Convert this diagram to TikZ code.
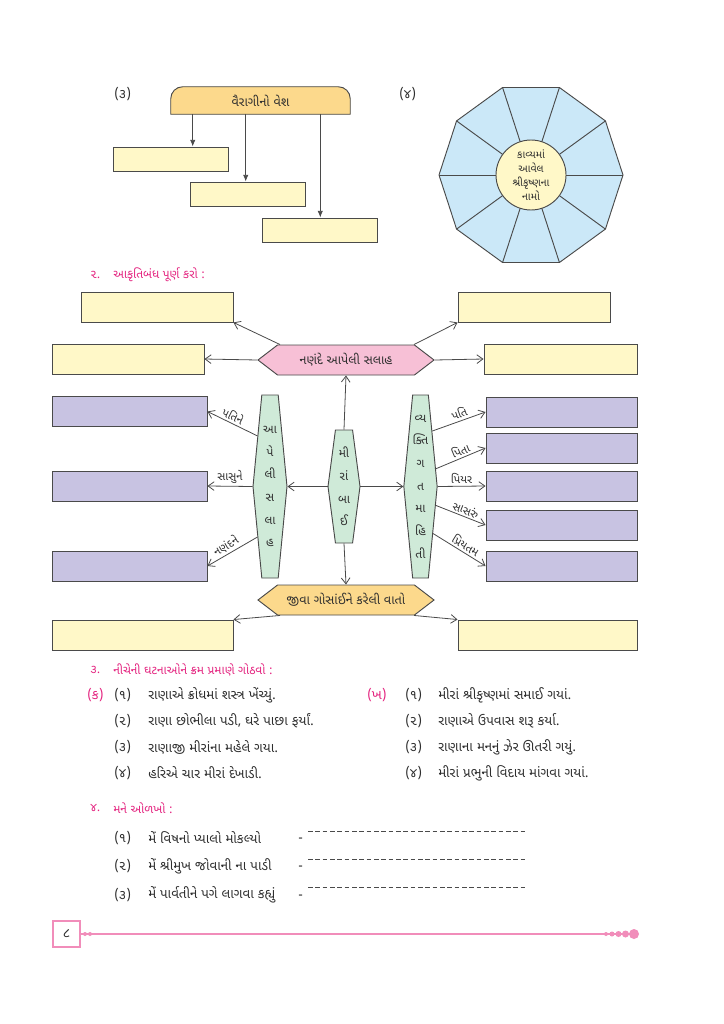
\documentclass[tikz,border=0pt]{standalone}
\usepackage{fontspec}
\setmainfont[Script=Gujarati]{Noto Sans Gujarati UI}
\usepackage{tikz}
\usetikzlibrary{arrows, arrows.meta, shapes.symbols, backgrounds, positioning}

\definecolor{linie}{HTML}{4A4A4A}
\definecolor{schrift}{HTML}{2E2E2E}
\definecolor{boxyel}{HTML}{FFF8C8}
\definecolor{boxlav}{HTML}{C8C3E2}
\definecolor{boxgrn}{HTML}{CFEAD8}
\definecolor{boxpnk}{HTML}{F7C0D6}
\definecolor{boxorg}{HTML}{FCD98C}
\definecolor{boxblu}{HTML}{CBE8F8}
\definecolor{headpk}{HTML}{E4237F}
\definecolor{footpk}{HTML}{F18DBA}

\tikzset{
  rubrik/.style={text=headpk, anchor=west, inner sep=0pt, font=\fontsize{9}{11}\selectfont},
  zeile/.style={text=schrift, anchor=west, inner sep=0pt, font=\fontsize{10}{12}\selectfont},
  gelb/.style={draw=linie, fill=boxyel, line width=0.7pt, inner sep=0pt, minimum height=30*0.75pt},
  lila/.style={draw=linie, fill=boxlav, line width=0.7pt, inner sep=0pt, minimum height=30*0.75pt},
  klein/.style={draw=linie, fill=boxyel, line width=0.7pt, inner sep=0pt, minimum width=115*0.75pt, minimum height=24*0.75pt},
  sechseck/.style={draw=linie, line width=0.7pt, shape=signal, signal to=east and west, signal pointer angle=75,
    minimum width=176*0.75pt, minimum height=30*0.75pt, inner sep=0pt, text=schrift, font=\fontsize{9.5}{11}\selectfont},
  saeule/.style={draw=linie, fill=boxgrn, line width=0.7pt, shape=signal, signal to=east and west, inner sep=0pt,
    align=center, text=schrift, font=\fontsize{9}{17}\selectfont},
  pfeil/.style={-{Straight Barb[length=4.5pt, width=6.5pt]}, draw=linie, line width=0.6pt},
  spitz/.style={-{Latex[length=5pt, width=4pt]}, draw=linie, line width=0.6pt},
  marke/.style={text=schrift, font=\fontsize{8.5}{10}\selectfont, inner sep=1.5pt},
}

\begin{document}
\begin{tikzpicture}[x=0.75pt, y=-0.75pt]
\useasboundingbox (0,0) rectangle (724,1024);
\begin{scope}[on background layer]
\fill[white] (0,0) rectangle (724,1024);
\end{scope}
% (3) vairagi no vesh
\node[zeile](nr3) at (114,94) {(૩)};
\node[text=schrift, minimum width=179*0.75pt, minimum height=27*0.75pt, inner sep=0pt, font=\fontsize{9.5}{11}\selectfont](kopf) at (260.5,100.5) {વૈરાગીનો વેશ};
\begin{scope}[on background layer]
\draw[draw=linie, fill=boxorg, line width=0.7pt] (kopf.south west) [rounded corners=9pt] -- (kopf.north west) -- (kopf.north east) [sharp corners] -- (kopf.south east) -- cycle;
\end{scope}
\node[klein](vesh1) at (170.5,159) {};
\node[klein](vesh2) at (247.5,194) {};
\node[klein](vesh3) at (319.5,230) {};
\draw[spitz] ([xshift=22*0.75pt]kopf.south west) -- ([xshift=22*0.75pt]kopf.south west |- vesh1.north);
\draw[spitz] ([xshift=75*0.75pt]kopf.south west) -- ([xshift=75*0.75pt]kopf.south west |- vesh2.north);
\draw[spitz] ([xshift=-30*0.75pt]kopf.south east) -- ([xshift=-30*0.75pt]kopf.south east |- vesh3.north);
%
% (4) krishna names
\node[zeile](nr4) at (399,94) {(૪)};
\begin{scope}[shift={(531,175)}]
\draw[draw=linie, fill=boxblu, line width=0.7pt] (0:92) -- (36:92) -- (72:92) -- (108:92) -- (144:92) -- (180:92) -- (216:92) -- (252:92) -- (288:92) -- (324:92) -- cycle;
\foreach \w in {0,36,...,324} \draw[linie, line width=0.7pt] (\w:92) -- (\w:35);
\node[circle, draw=linie, fill=boxyel, line width=0.7pt, minimum size=70*0.75pt, inner sep=0pt, align=center, text=schrift, font=\fontsize{8}{10.5}\selectfont](naam) at (0,0) {કાવ્યમાં\\આવેલ\\શ્રીકૃષ્ણના\\નામો};
\end{scope}
%
% 2. akrutibandh
\node[rubrik](nr2) at (90,275) {૨.};
\node[rubrik](titel2) at (113,275) {આકૃતિબંધ પૂર્ણ કરો :};
\node[sechseck, fill=boxpnk](salah) at (346,360) {નણંદે આપેલી સલાહ};
\node[sechseck, fill=boxorg](jiva) at (346,600) {જીવા ગોસાંઈને કરેલી વાતો};
\node[saeule, signal pointer angle=165, minimum width=32*0.75pt, minimum height=113*0.75pt](meera) at (344,486.5) {મી\\રાં\\બા\\ઈ};
\node[saeule, signal pointer angle=169, minimum width=34*0.75pt, minimum height=183*0.75pt](apeli) at (270,486.5) {આ\\પે\\લી\\સ\\લા\\હ};
\node[saeule, signal pointer angle=169, minimum width=33*0.75pt, minimum height=183*0.75pt](vyakt) at (420.5,486.5) {વ્ય\\ક્તિ\\ગ\\ત\\મા\\હિ\\તી};
%
\node[gelb, minimum width=152*0.75pt](gelbol) at (157,307) {};
\node[gelb, minimum width=152*0.75pt](gelbor) at (534,307) {};
\node[gelb, minimum width=152*0.75pt](gelbml) at (128,359) {};
\node[gelb, minimum width=153*0.75pt](gelbmr) at (560.5,359) {};
\node[gelb, minimum width=181*0.75pt](gelbul) at (142.5,635) {};
\node[gelb, minimum width=179*0.75pt](gelbur) at (547.5,635) {};
%
\node[lila, minimum width=155*0.75pt](lilal1) at (129.5,411.5) {};
\node[lila, minimum width=155*0.75pt](lilal2) at (129.5,486) {};
\node[lila, minimum width=155*0.75pt](lilal3) at (129.5,566) {};
\node[lila, minimum width=151*0.75pt](lilar1) at (561.5,412) {};
\node[lila, minimum width=151*0.75pt](lilar2) at (561.5,448) {};
\node[lila, minimum width=151*0.75pt](lilar3) at (561.5,486) {};
\node[lila, minimum width=151*0.75pt](lilar4) at (561.5,525) {};
\node[lila, minimum width=151*0.75pt](lilar5) at (561.5,566) {};
%
\draw[pfeil] ([xshift=-66*0.75pt]salah.north) -- (gelbol.south east);
\draw[pfeil] ([xshift=68*0.75pt]salah.north) -- (gelbor.south west);
\draw[pfeil] (salah.west) -- (gelbml.east);
\draw[pfeil] (salah.east) -- (gelbmr.west);
\draw[pfeil] (meera.north) -- (salah.south);
\draw[pfeil] (meera.south) -- (jiva.north);
\draw[pfeil] (meera.west) -- (apeli.east);
\draw[pfeil] (meera.east) -- (vyakt.west);
\draw[pfeil] ([xshift=-66*0.75pt]jiva.south) -- (gelbul.north east);
\draw[pfeil] ([xshift=68*0.75pt]jiva.south) -- (gelbur.north west);
%
\draw[pfeil] (apeli.104) -- (lilal1.east) node[marke, pos=0.55, above, sloped]{પતિને};
\draw[pfeil] (apeli.west) -- (lilal2.east) node[marke, pos=0.5, above]{સાસુને};
\draw[pfeil] (apeli.256) -- (lilal3.east) node[marke, pos=0.55, above, sloped]{નણંદને};
\draw[pfeil] (vyakt.78) -- (lilar1.west) node[marke, pos=0.55, above, sloped]{પતિ};
\draw[pfeil] (vyakt.49) -- (lilar2.west) node[marke, pos=0.55, above, sloped]{પિતા};
\draw[pfeil] (vyakt.east) -- (lilar3.west) node[marke, midway, above]{પિયર};
\draw[pfeil] (vyakt.-51) -- (lilar4.west) node[marke, pos=0.55, above, sloped]{સાસરું};
\draw[pfeil] (vyakt.-75) -- (lilar5.west) node[marke, pos=0.55, above, sloped]{પ્રિયતમ};
%
% 3. ghatnao
\node[rubrik](nr3b) at (90,670) {૩.};
\node[rubrik](titel3) at (113,670) {નીચેની ઘટનાઓને ક્રમ પ્રમાણે ગોઠવો :};
\node[zeile, text=headpk](ka) at (87,695) {(ક)};
\node[zeile](ka1n) at (114,695) {(૧)};
\node[zeile](ka1) at (148,695) {રાણાએ ક્રોધમાં શસ્ત્ર ખેંચ્યું.};
\node[zeile](ka2n) at (114,721) {(૨)};
\node[zeile](ka2) at (148,721) {રાણા છોભીલા પડી, ઘરે પાછા ફર્યાં.};
\node[zeile](ka3n) at (114,747) {(૩)};
\node[zeile](ka3) at (148,747) {રાણાજી મીરાંના મહેલે ગયા.};
\node[zeile](ka4n) at (114,773) {(૪)};
\node[zeile](ka4) at (148,773) {હરિએ ચાર મીરાં દેખાડી.};
\node[zeile, text=headpk](kha) at (367,695) {(ખ)};
\node[zeile](kha1n) at (405,695) {(૧)};
\node[zeile](kha1) at (438,695) {મીરાં શ્રીકૃષ્ણમાં સમાઈ ગયાં.};
\node[zeile](kha2n) at (405,721) {(૨)};
\node[zeile](kha2) at (438,721) {રાણાએ ઉપવાસ શરૂ કર્યા.};
\node[zeile](kha3n) at (405,747) {(૩)};
\node[zeile](kha3) at (438,747) {રાણાના મનનું ઝેર ઊતરી ગયું.};
\node[zeile](kha4n) at (405,773) {(૪)};
\node[zeile](kha4) at (438,773) {મીરાં પ્રભુની વિદાય માંગવા ગયાં.};
%
% 4. mane olakho
\node[rubrik](nr4b) at (90,808) {૪.};
\node[rubrik](titel4) at (113,808) {મને ઓળખો :};
\node[zeile](ol1n) at (114,838) {(૧)};
\node[zeile](ol1) at (148,838) {મેં વિષનો પ્યાલો મોકલ્યો};
\node[zeile](ol2n) at (114,866) {(૨)};
\node[zeile](ol2) at (148,866) {મેં શ્રીમુખ જોવાની ના પાડી};
\node[zeile](ol3n) at (114,895) {(૩)};
\node[zeile](ol3) at (148,895) {મેં પાર્વતીને પગે લાગવા કહ્યું};
\node[zeile](strich1) at (298,840) {-};
\node[zeile](strich2) at (298,868) {-};
\node[zeile](strich3) at (298,897) {-};
\coordinate(antw1) at (308,831);
\coordinate(antw2) at (308,859);
\coordinate(antw3) at (308,887);
\draw[linie, line width=0.6pt, dash pattern=on 3.5pt off 2pt] (antw1) -- ++(217,0);
\draw[linie, line width=0.6pt, dash pattern=on 3.5pt off 2pt] (antw2) -- ++(217,0);
\draw[linie, line width=0.6pt, dash pattern=on 3.5pt off 2pt] (antw3) -- ++(217,0);
%
% footer
\node[draw=footpk, line width=1.2pt, minimum width=27*0.75pt, minimum height=26*0.75pt, inner sep=0pt, text=schrift, font=\fontsize{10}{12}\selectfont](seite) at (66.5,934) {૮};
\coordinate(fussende) at (630,934);
\draw[footpk, line width=1.5pt] (seite.east) -- (fussende);
\fill[footpk] (85,934) circle (2) (90,934) circle (2);
\fill[footpk] (606,934) circle (2) (612,934) circle (2.5) (618.5,934) circle (3) (625.5,934) circle (3.5) (634,934) circle (5);
\end{tikzpicture}
\end{document}
